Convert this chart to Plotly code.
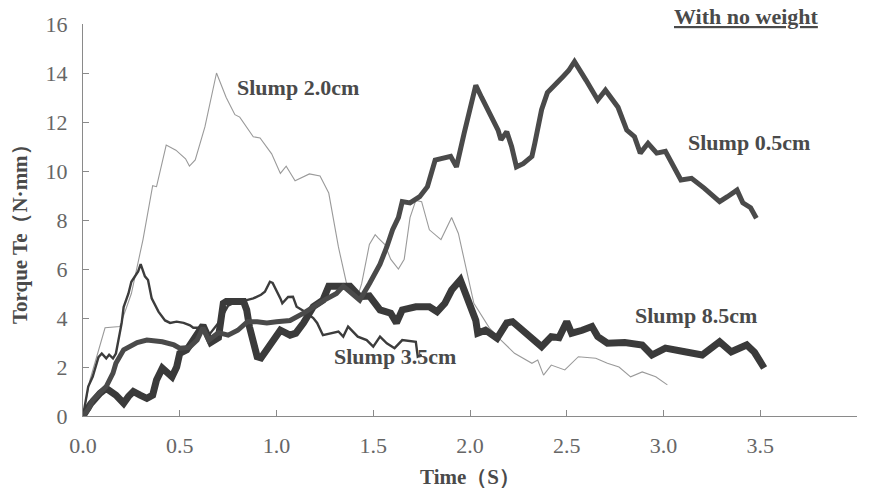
import plotly.graph_objects as go

# ---- data ----
x_slump05 = [0, 0.03, 0.05, 0.12, 0.155, 0.17, 0.21, 0.25, 0.28, 0.33, 0.41, 0.47, 0.5, 0.55, 0.59,
             0.62, 0.65, 0.7, 0.75, 0.8, 0.85, 0.9, 0.95, 1.0, 1.07, 1.14, 1.19, 1.24, 1.31, 1.345,
             1.39, 1.43, 1.48, 1.535, 1.57, 1.6, 1.63, 1.65, 1.69, 1.74, 1.78, 1.82, 1.9, 1.93,
             1.97, 2.0, 2.03, 2.06, 2.1, 2.145, 2.16, 2.19, 2.215, 2.24, 2.275, 2.32, 2.335, 2.37,
             2.4, 2.45, 2.48, 2.51, 2.54, 2.6, 2.66, 2.7, 2.765, 2.81, 2.85, 2.88, 2.92, 2.965,
             3.01, 3.09, 3.145, 3.21, 3.29, 3.33, 3.38, 3.41, 3.45, 3.48]
y_slump05 = [0, 0.3, 0.65, 1.2, 1.75, 2.15, 2.7, 2.9, 3.0, 3.1, 3.03, 2.9, 2.77, 2.8, 3.1,
             3.6, 3.1, 3.4, 3.3, 3.5, 3.85, 3.85, 3.8, 3.85, 3.9, 4.2, 4.46, 4.7, 5.0, 5.3,
             5.0, 4.73, 5.4, 6.2, 6.9, 7.6, 8.1, 8.75, 8.7, 8.95, 9.36, 10.45, 10.6, 10.17,
             11.55, 12.6, 13.5, 13.0, 12.35, 11.67, 11.27, 11.6, 11.0, 10.17, 10.3, 10.6, 11.13, 12.5,
             13.2, 13.65, 13.85, 14.1, 14.46, 13.7, 12.9, 13.3, 12.6, 11.67, 11.4, 10.73, 11.13, 10.73,
             10.8, 9.63, 9.7, 9.3, 8.75, 8.95, 9.22, 8.7, 8.5, 8.07]

x_slump20 = [0, 0.036, 0.114, 0.19, 0.25, 0.31, 0.36, 0.38, 0.43, 0.48, 0.53, 0.55, 0.58, 0.63,
             0.69, 0.74, 0.785, 0.81, 0.88, 0.915, 0.975, 1.02, 1.05, 1.096, 1.17, 1.225, 1.27,
             1.32, 1.36, 1.38, 1.42, 1.44, 1.48, 1.51, 1.525, 1.56, 1.59, 1.63, 1.66, 1.69, 1.72,
             1.75, 1.79, 1.85, 1.905, 1.94, 2.02, 2.1, 2.16, 2.23, 2.32, 2.35, 2.38, 2.42, 2.49,
             2.56, 2.65, 2.71, 2.77, 2.83, 2.89, 2.96, 3.02]
y_slump20 = [0, 1.47, 3.6, 3.65, 5.0, 7.2, 9.4, 9.36, 11.06, 10.85, 10.5, 10.2, 10.45, 11.8,
             14.0, 13.0, 12.3, 12.2, 11.4, 11.35, 10.7, 9.9, 10.2, 9.6, 9.88, 9.8, 9.1,
             6.9, 5.48, 5.0, 4.9, 5.4, 7.0, 7.4, 7.27, 7.0, 6.4, 6.0, 6.4, 8.1, 8.8,
             8.75, 7.6, 7.2, 8.1, 7.45, 4.6, 3.6, 3.1, 2.56, 2.15, 2.28, 1.67, 2.08, 1.88,
             2.42, 2.36, 2.15, 2.0, 1.6, 1.8, 1.6, 1.27]

x_slump35 = [0, 0.027, 0.05, 0.08, 0.097, 0.12, 0.135, 0.155, 0.17, 0.2, 0.21, 0.235, 0.25,
             0.285, 0.298, 0.32, 0.336, 0.355, 0.39, 0.424, 0.45, 0.484, 0.52, 0.553, 0.57,
             0.6, 0.65, 0.7, 0.75, 0.8, 0.846, 0.88, 0.92, 0.94, 0.966, 0.98, 1.02, 1.03,
             1.06, 1.085, 1.104, 1.147, 1.19, 1.21, 1.24, 1.285, 1.32, 1.345, 1.37, 1.42,
             1.466, 1.5, 1.535, 1.57, 1.61, 1.65, 1.72, 1.73, 1.75]
y_slump35 = [0, 1.2, 1.6, 2.4, 2.55, 2.35, 2.5, 2.35, 2.55, 3.8, 4.45, 5.0, 5.48,
             5.9, 6.2, 5.7, 5.55, 4.8, 4.26, 3.9, 3.8, 3.85, 3.8, 3.7, 3.6,
             3.6, 3.3, 3.8, 4.5, 4.7, 4.73, 4.8, 4.95, 5.07, 5.48, 5.43, 4.8, 4.6,
             4.86, 4.87, 4.46, 4.26, 4.0, 3.8, 3.3, 3.39, 3.45, 3.24, 3.65, 3.24,
             3.1, 2.83, 3.24, 2.97, 2.77, 3.1, 3.03, 2.42, 2.5]

x_slump85 = [0, 0.04, 0.088, 0.12, 0.17, 0.21, 0.235, 0.26, 0.295, 0.33, 0.36, 0.38, 0.41,
             0.46, 0.484, 0.5, 0.536, 0.595, 0.62, 0.66, 0.7, 0.725, 0.74, 0.83, 0.846, 0.86,
             0.88, 0.9, 0.92, 0.95, 0.98, 1.02, 1.07, 1.1, 1.14, 1.19, 1.24, 1.27, 1.38, 1.43,
             1.48, 1.535, 1.59, 1.62, 1.65, 1.72, 1.79, 1.83, 1.87, 1.905, 1.95, 1.97, 2.0,
             2.03, 2.04, 2.08, 2.14, 2.19, 2.22, 2.27, 2.32, 2.37, 2.42, 2.46, 2.5, 2.525,
             2.58, 2.63, 2.66, 2.71, 2.8, 2.89, 2.94, 3.01, 3.11, 3.2, 3.29, 3.35, 3.43,
             3.47, 3.52]
y_slump85 = [0, 0.5, 0.93, 1.13, 0.85, 0.52, 0.8, 1.0, 0.85, 0.72, 0.85, 1.47, 1.95,
             1.6, 2.0, 2.56, 2.7, 3.38, 3.7, 3.0, 3.2, 4.6, 4.67, 4.67, 4.33, 3.65,
             2.97, 2.42, 2.37, 2.7, 3.1, 3.5, 3.3, 3.38, 3.8, 4.46, 4.73, 5.3, 5.3, 4.87,
             4.9, 4.33, 4.2, 3.8, 4.33, 4.46, 4.46, 4.26, 4.6, 5.14, 5.55, 5.14, 4.46,
             3.9, 3.38, 3.5, 3.17, 3.8, 3.85, 3.5, 3.24, 2.83, 3.24, 3.2, 3.85, 3.38,
             3.5, 3.65, 3.24, 2.97, 3.0, 2.9, 2.49, 2.77, 2.62, 2.49, 3.03, 2.62, 2.9,
             2.6, 1.96]

x_ticks = [0, 0.5, 1.0, 1.5, 2.0, 2.5, 3.0, 3.5, 4.0]
x_ticklabels = ["0.0", "0.5", "1.0", "1.5", "2.0", "2.5", "3.0", "3.5", "4.0"]
y_ticks = [0, 2, 4, 6, 8, 10, 12, 14, 16]
y_ticklabels = ["0", "2", "4", "6", "8", "10", "12", "14", "16"]

labels = ["Slump 2.0cm", "Slump 0.5cm", "Slump 8.5cm", "Slump 3.5cm"]
label_x = [1.111, 3.444, 3.17, 1.61]
label_y = [13.39, 11.18, 4.12, 2.41]

SERIF = "Liberation Serif, Times New Roman, serif"
TEXT = "#4a4a4a"

fig = go.Figure()
fig.add_trace(go.Scatter(x=x_slump20, y=y_slump20, mode="lines", name="Slump 2.0cm",
                         line=dict(color="#9a9a9a", width=1.1)))
fig.add_trace(go.Scatter(x=x_slump35, y=y_slump35, mode="lines", name="Slump 3.5cm",
                         line=dict(color="#3c3c3c", width=2.4)))
fig.add_trace(go.Scatter(x=x_slump85, y=y_slump85, mode="lines", name="Slump 8.5cm",
                         line=dict(color="#3a3a3a", width=7)))
fig.add_trace(go.Scatter(x=x_slump05, y=y_slump05, mode="lines", name="Slump 0.5cm",
                         line=dict(color="#4a4a4a", width=5)))

for t, lx, ly in zip(labels, label_x, label_y):
    fig.add_annotation(x=lx, y=ly, xref="x", yref="y", text="<b>" + t + "</b>",
                       showarrow=False, xanchor="center", yanchor="middle",
                       font=dict(family=SERIF, size=22, color=TEXT))

fig.add_annotation(x=0.8566, y=1.018, xref="paper", yref="paper",
                   text="<b><u>With no weight</u></b>", xanchor="center", yanchor="middle",
                   showarrow=False, font=dict(family=SERIF, size=22, color=TEXT))

fig.add_annotation(x=-0.0814, y=0.477, xref="paper", yref="paper",
                   text="<b>Torque Te（N·mm）</b>", xanchor="center", yanchor="middle",
                   textangle=-90, showarrow=False,
                   font=dict(family=SERIF, size=21, color=TEXT))

fig.update_layout(
    width=870, height=493,
    margin=dict(l=83, r=13, t=24, b=77),
    paper_bgcolor="white", plot_bgcolor="white",
    showlegend=False,
    xaxis=dict(range=[0, 4.0], tickvals=x_ticks, ticktext=x_ticklabels,
               automargin=False,
               showgrid=False, zeroline=False, showline=True, linecolor="#8a8a8a",
               linewidth=1, ticks="inside", ticklen=6, tickcolor="#8a8a8a",
               ticklabelstandoff=10,
               tickfont=dict(family=SERIF, size=22, color="#666666"),
               title=dict(text="<b>Time（S）</b>", standoff=11,
                          font=dict(family=SERIF, size=21, color=TEXT))),
    yaxis=dict(range=[0, 16], tickvals=y_ticks, ticktext=y_ticklabels,
               automargin=False,
               showgrid=False, zeroline=False, showline=True, linecolor="#8a8a8a",
               linewidth=1, ticks="inside", ticklen=6, tickcolor="#8a8a8a",
               ticklabelstandoff=10,
               tickfont=dict(family=SERIF, size=22, color="#666666")),
)

fig.write_html("out.html")
